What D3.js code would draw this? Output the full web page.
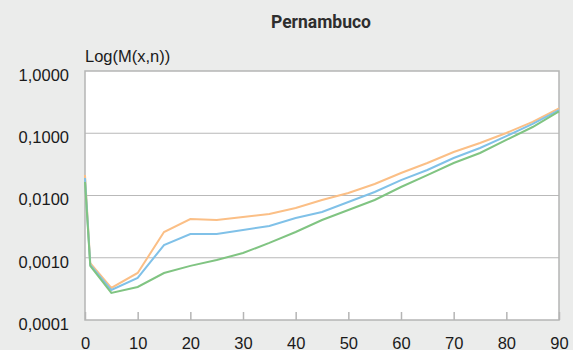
<!DOCTYPE html>
<html>
<head>
<meta charset="utf-8">
<script src="https://cdn.jsdelivr.net/npm/d3@7"></script>
<style>
  body { margin: 0; background: #ebeceb; }
  svg { display: block; font-family: "Liberation Sans", Arial, sans-serif; }
</style>
</head>
<body>
<svg id="chart" width="573" height="350"></svg>
<script>
const ages = [0, 1, 5, 10, 15, 20, 25, 30, 35, 40, 45, 50, 55, 60, 65, 70, 75, 80, 85, 90];
const seriesOrange = [0.0213, 0.00082, 0.000327, 0.000569, 0.00259, 0.00419, 0.00404, 0.00452, 0.00505, 0.0063,
  0.00847, 0.011, 0.0153, 0.023, 0.0333, 0.050, 0.0697, 0.101, 0.152, 0.25];
const seriesBlue = [0.0191, 0.00077, 0.000303, 0.000473, 0.0016, 0.00241, 0.00241, 0.00279, 0.00324, 0.00435,
  0.00543, 0.00787, 0.0114, 0.0177, 0.0257, 0.040, 0.058, 0.090, 0.141, 0.235];
const seriesGreen = [0.0165, 0.00074, 0.000272, 0.000339, 0.000569, 0.00074, 0.00092, 0.00119, 0.00173, 0.00259,
  0.00404, 0.00585, 0.00847, 0.0137, 0.0213, 0.0333, 0.0482, 0.078, 0.126, 0.225];
const yTicks = [0.0001, 0.001, 0.01, 0.1, 1];
const xTicks = [0, 10, 20, 30, 40, 50, 60, 70, 80, 90];

const svg = d3.select('#chart');
const plotLeft = 85, plotRight = 559, plotTop = 71, plotBottom = 320;

const x = d3.scaleLinear().domain([0, 90]).range([plotLeft, plotRight]);
const y = d3.scaleLog().domain([0.0001, 1]).range([plotBottom, plotTop]);

// plot background
svg.append('rect')
  .attr('x', plotLeft).attr('y', plotTop)
  .attr('width', plotRight - plotLeft).attr('height', plotBottom - plotTop)
  .attr('fill', '#fff');

// horizontal gridlines
svg.append('g')
  .selectAll('line')
  .data(yTicks.slice(1, -1))
  .enter()
  .append('line')
  .attr('x1', plotLeft).attr('x2', plotRight)
  .attr('y1', d => y(d)).attr('y2', d => y(d))
  .attr('stroke', '#b9b9b9').attr('stroke-width', 1.2);

// frame
svg.append('rect')
  .attr('x', plotLeft).attr('y', plotTop)
  .attr('width', plotRight - plotLeft).attr('height', plotBottom - plotTop)
  .attr('fill', 'none')
  .attr('stroke', '#b5b5b5').attr('stroke-width', 1.5);

// x axis: ticks pointing inward
const xAxis = d3.axisBottom(x).tickValues(xTicks).tickSizeInner(-8).tickSizeOuter(0).tickPadding(17);
const gx = svg.append('g').attr('transform', `translate(0,${plotBottom})`).call(xAxis);
gx.select('.domain').remove();
gx.selectAll('.tick line').attr('stroke', '#b5b5b5').attr('stroke-width', 1.5);
gx.selectAll('.tick text').attr('fill', '#1a1a1a').attr('font-size', '16.5px')
  .attr('font-family', '"Liberation Sans", Arial, sans-serif');

// y axis labels
const fmt = d => d.toFixed(4).replace('.', ',');
const yAxis = d3.axisLeft(y).tickValues(yTicks).tickFormat(fmt).tickSize(0).tickPadding(16);
const gy = svg.append('g').attr('transform', `translate(${plotLeft},0)`).call(yAxis);
gy.select('.domain').remove();
gy.selectAll('.tick text').attr('fill', '#1a1a1a').attr('font-size', '16.5px')
  .attr('dy', '0.75em').attr('y', -3)
  .attr('font-family', '"Liberation Sans", Arial, sans-serif');

// axis title
svg.append('text')
  .attr('x', plotLeft).attr('y', 62)
  .attr('font-size', '16.5px').attr('fill', '#1a1a1a')
  .text('Log(M(x,n))');

// chart title
svg.append('text')
  .attr('x', 321).attr('y', 28)
  .attr('text-anchor', 'middle')
  .attr('font-family', 'Roboto, sans-serif')
  .attr('font-weight', 'bold')
  .attr('font-size', '17.5px').attr('fill', '#2e2e2e')
  .text('Pernambuco');

// lines
const line = d3.line().x((d, i) => x(ages[i])).y(d => y(d));
const series = [
  { values: seriesOrange, color: '#fbbf86' },
  { values: seriesBlue, color: '#80c1e8' },
  { values: seriesGreen, color: '#80c482' }
];
svg.append('g')
  .selectAll('path')
  .data(series)
  .enter()
  .append('path')
  .attr('d', d => line(d.values))
  .attr('fill', 'none')
  .attr('stroke', d => d.color)
  .attr('stroke-width', 2);
</script>
</body>
</html>
